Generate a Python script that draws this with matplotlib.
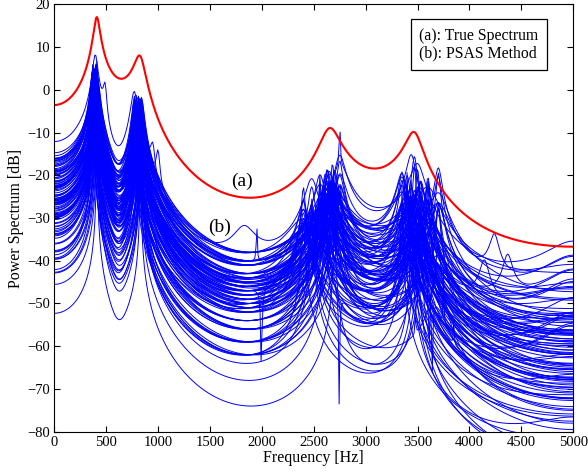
import numpy as np
import matplotlib
matplotlib.use("Agg")
import matplotlib.pyplot as plt

fs = 10000.0
freq_fine = np.linspace(0, 5000, 5001)
freq_grid = np.linspace(0, 5000, 513)   # estimates were evaluated on a coarse grid

# true AR model
true_freqs = [409, 827, 2654, 3468]
true_bws = [55, 100, 175, 150]
broad_freq = 3000
broad_bw = 4000
true_tilt = -0.5
true_peak_db = 17.0

# PSAS estimates: small tables, cycled over the curves
n_blue = 110
ref_freq = 1885
blue_level_db = [-38, -40, -41, -43, -44, -45, -46, -47, -48, -49, -50, -51, -52, -54, -56, -59, -62]
blue_bw_lo = [1.0, 0.85, 0.75, 0.65, 0.55, 0.5, 0.45, 0.4, 0.35, 0.3, 0.27, 0.24, 0.2, 0.16, 0.13, 0.1, 0.08]
blue_bw_p1 = 0.8
blue_bw_p2 = 0.55
blue_bw_hi = [1.5, 0.8, 1.2, 2.0, 1.0, 0.6, 1.4]
blue_tilt = [-0.5, -0.25, -0.75, -0.4, -0.85, 0.1, -0.6, 0.2, -0.3]
blue_curv = [0.0, 0.15, -0.12, 0.08, -0.06, 0.18, -0.15, 0.1, -0.03, 0.12, -0.1]
blue_f1 = [385, 400, 410, 372, 395]
blue_f2 = [825, 790, 840, 810, 770, 830]
blue_f3 = [2650, 2560, 2700, 2610, 2750, 2480, 2680, 2400, 2630]
blue_f4 = [3470, 3400, 3530, 3600, 3350, 3500, 3700, 3440]
notch_620 = (620, 200, 560)   # freq, zero bw, pole bw

# a few very low estimates
deep_curve = [12, 47, 77]
deep_level_db = [-68, -74, -64]

# local bumps / spikes (+) and notches (-): curve, freq, height dB, pole bw
bump_curve = [34, 17, 35, 68, 4, 22, 40, 18, 85, 52, 48, 60, 70, 80, 14, 28, 41, 57, 66, 88]
bump_freq = [490, 1000, 950, 1830, 4144, 4240, 4368, 1950, 2750, 3750, 3850,
             2720, 3560, 2790, 3480, 2600, 1995, 3610, 2745, 3640]
bump_gain = [8, 8, 8, 7, 9, 9, 9, 14, 16, 12, 10, 12, 10, 10, 10, 10, -40, -40, -35, -40]
bump_bw = [30, 30, 40, 200, 80, 80, 80, 3, 3, 3, 3, 3, 3, 3, 3, 3, 40, 40, 40, 40]


def pair_db(freq, f, bw):
    z1 = np.exp(-1j * 2 * np.pi * freq / fs)
    r = np.exp(-np.pi * bw / fs)
    th = 2 * np.pi * f / fs
    return 20 * np.log10(np.abs(1 - 2 * r * np.cos(th) * z1 + r ** 2 * z1 ** 2))


def real_db(freq, a):
    z1 = np.exp(-1j * 2 * np.pi * freq / fs)
    return 20 * np.log10(np.abs(1 - a * z1))


def curv_db(freq, c):
    z1 = np.exp(-1j * 2 * np.pi * freq / fs)
    return -20 * np.log10(np.abs(1 - c * z1 ** 2))


def ar_db(freq, poles, tilt=0.0, zeros=()):
    y = -real_db(freq, tilt)
    for f, bw in poles:
        y -= pair_db(freq, f, bw)
    for f, bw in zeros:
        y += pair_db(freq, f, bw)
    return y


true_poles = list(zip(true_freqs, true_bws)) + [(broad_freq, broad_bw)]
red = ar_db(freq_fine, true_poles, true_tilt)
red = red + true_peak_db - red.max()

plt.rcParams['font.family'] = ['Liberation Serif', 'DejaVu Serif']
fig = plt.figure(figsize=(5.88, 4.73), dpi=100)
ax = fig.add_axes([0.0923, 0.0873, 0.8827, 0.9036])

k_ref = np.argmin(np.abs(freq_grid - ref_freq))
for i in range(n_blue):
    j = i % len(blue_level_db)
    level = blue_level_db[j]
    bl = blue_bw_lo[j]
    if i in deep_curve:
        level = deep_level_db[deep_curve.index(i)]
        bl = 0.05
    bh = bl * blue_bw_hi[i % len(blue_bw_hi)]
    poles = [(blue_f1[i % len(blue_f1)], true_bws[0] * bl * blue_bw_p1),
             (blue_f2[i % len(blue_f2)], true_bws[1] * bl * blue_bw_p2),
             (blue_f3[i % len(blue_f3)], true_bws[2] * bh),
             (blue_f4[i % len(blue_f4)], true_bws[3] * bh),
             (broad_freq, broad_bw),
             (notch_620[0], notch_620[2])]
    zeros = [(notch_620[0], notch_620[1])]
    y = ar_db(freq_grid, poles, blue_tilt[i % len(blue_tilt)], zeros)
    y = y + curv_db(freq_grid, blue_curv[i % len(blue_curv)])
    y = y - y[k_ref] + level
    for c, f, g, b in zip(bump_curve, bump_freq, bump_gain, bump_bw):
        if c == i:
            y = y - pair_db(freq_grid, f, b) + pair_db(freq_grid, f, b * 10 ** (g / 20))
    ax.plot(freq_grid, y, color='#0000ff', lw=0.7)

ax.plot(freq_fine, red, color='#ff0000', lw=1.5)

ax.set_xlim(0, 5000)
ax.set_ylim(-80, 20)
ax.set_xticks(np.arange(0, 5001, 500))
ax.set_yticks(np.arange(-80, 21, 10))
ax.tick_params(direction='in', top=True, right=True, length=4, labelsize=10.5, pad=3)
ax.set_xlabel('Frequency [Hz]', fontsize=11.5, labelpad=1)
ax.set_ylabel('Power Spectrum [dB]', fontsize=11.5, labelpad=2)

ax.text(1808, -21.5, '(a)', fontsize=14, ha='center', va='center')
ax.text(1590, -32.3, '(b)', fontsize=14, ha='center', va='center')
ax.text(0.7035, 0.945, '(a): True Spectrum\n(b): PSAS Method', transform=ax.transAxes,
        fontsize=11.3, va='top', ha='left', linespacing=1.15,
        bbox=dict(boxstyle='square,pad=0.55', fc='white', ec='black', lw=0.9))

fig.savefig('out.png', dpi=100)
